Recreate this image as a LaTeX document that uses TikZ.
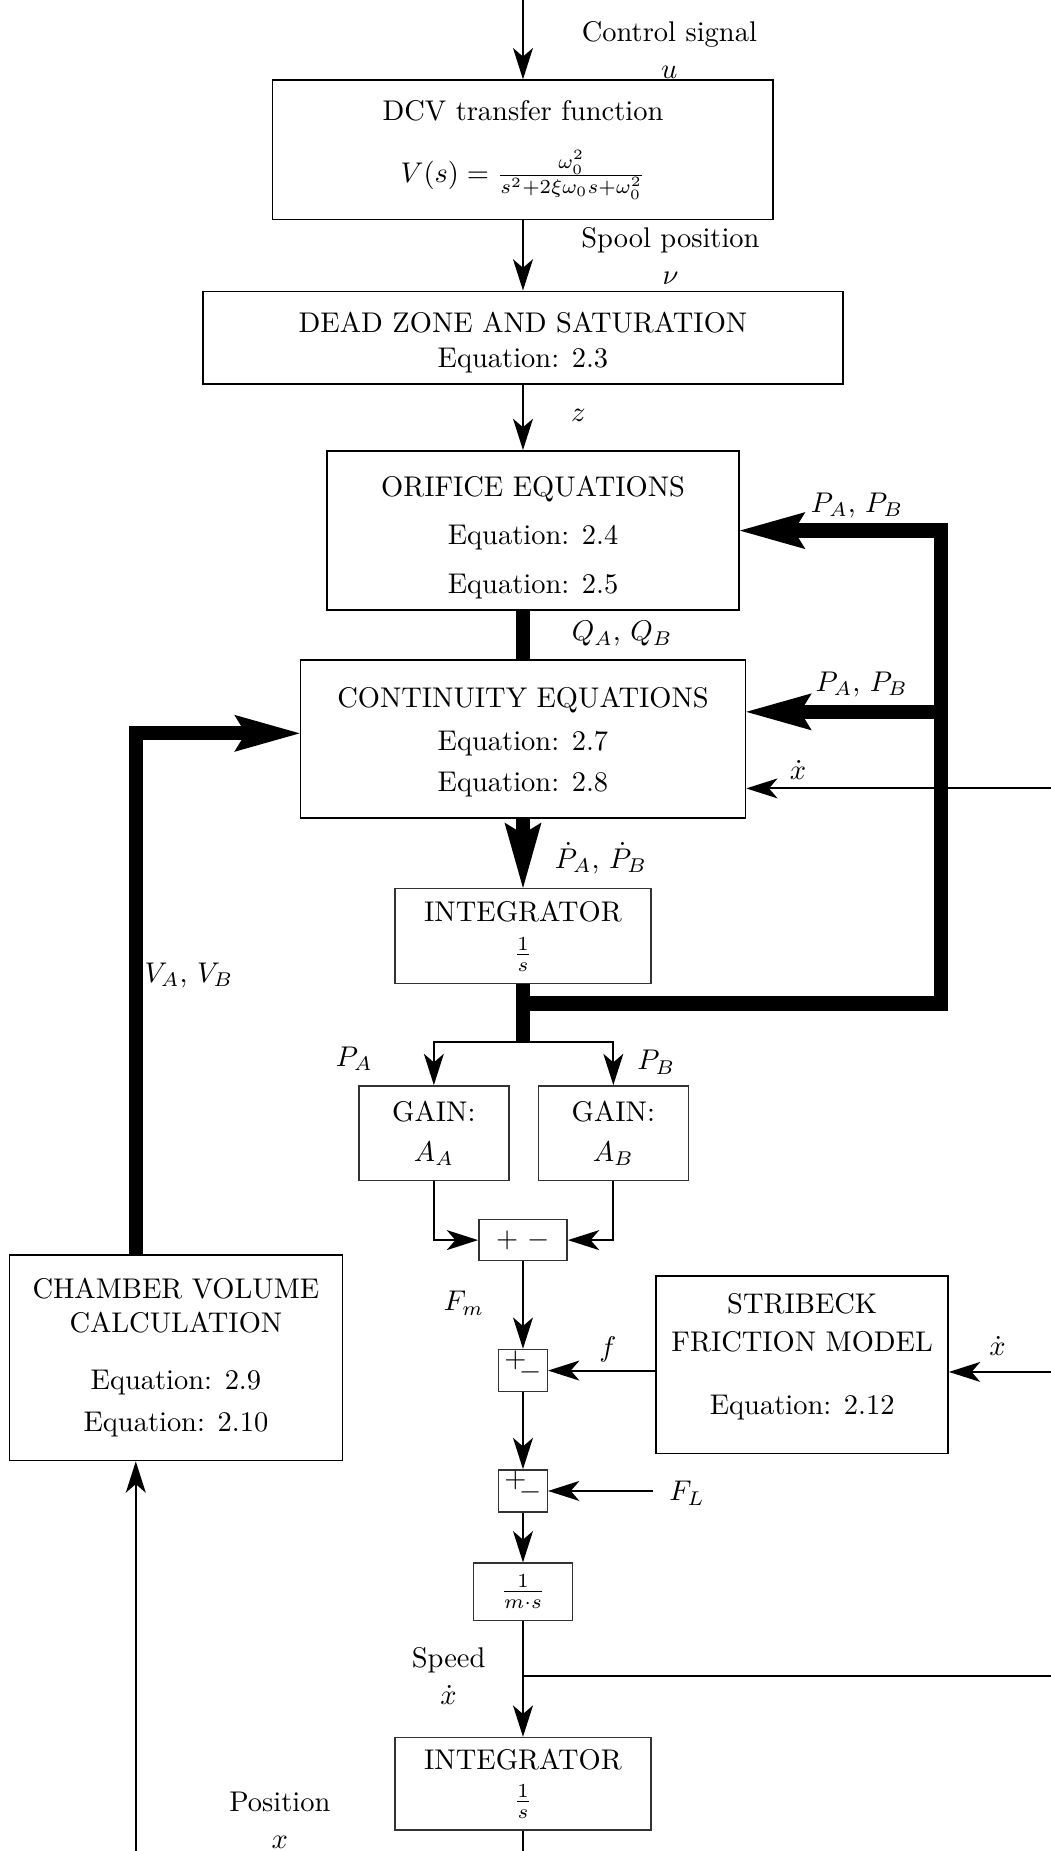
\documentclass[tikz,border=0pt]{standalone}
\usepackage{amsmath}
\usepackage{tikz}
\usetikzlibrary{arrows.meta, positioning}
\newcommand{\plusminus}{\raisebox{4.2pt}{$+$}\kern-2.5pt$-$}
\tikzset{
  block/.style={rectangle, draw=black, align=center, line width=0.6pt, inner sep=2pt},
  smallblock/.style={rectangle, draw=black!80, align=center, line width=0.5pt, inner sep=1pt},
  sumjunc/.style={rectangle, draw=black!80, line width=0.5pt, inner sep=0.5pt,
    minimum width=0.6cm, minimum height=0.52cm, text height=6pt, text depth=0pt},
  lbl/.style={align=center, inner sep=1pt},
  arrow/.style={-{Stealth[length=11pt, width=7pt, inset=3pt]}, line width=0.7pt},
  line/.style={line width=0.7pt},
  thickarrow/.style={-{Stealth[length=23pt, width=13pt, inset=4pt, line width=0pt]}, line width=5pt},
  thickline/.style={line width=5pt}
}

\begin{document}
\begin{tikzpicture}
  \useasboundingbox (-6.455,0) rectangle (6.512,-22.846);
  \coordinate (top) at (0,0.2);
  \coordinate (redge) at (6.7,0);
  \coordinate (bedge) at (0,-23.1);

  % Valve chain
  \node[block, minimum width=6.18cm, minimum height=1.72cm] (dcv) at (0,-1.850)
    {DCV transfer function\\[10pt] $V(s)=\frac{\omega_0^2}{s^2+2\xi\omega_0 s+\omega_0^2}$};
  \node[block, minimum width=7.90cm, minimum height=1.14cm] (dead) at (0,-4.167)
    {\rule{0pt}{10.5pt}DEAD ZONE AND SATURATION\\[0.5pt] Equation: 2.3};
  \node[block, minimum width=5.085cm, minimum height=1.967cm] (orifice) at (0.124,-6.549)
    {\rule{0pt}{12pt}ORIFICE EQUATIONS\\[5pt] Equation: 2.4\\[5pt] Equation: 2.5};
  \node[block, minimum width=5.49cm, minimum height=1.95cm] (cont) at (0,-9.121)
    {\rule{0pt}{9.3pt}CONTINUITY EQUATIONS\\[3pt] Equation: 2.7\\[2.5pt] Equation: 2.8};
  \node[smallblock, minimum width=3.16cm, minimum height=1.17cm] (integA) at (0,-11.554)
    {INTEGRATOR\\[2pt] $\frac{1}{s}$};

  \draw[arrow] (top) -- (dcv.north);
  \draw[arrow] (dcv.south) -- (dead.north);
  \draw[arrow] (dead.south) -- (dead.south |- orifice.north);
  \draw[thickline] (cont.north |- orifice.south) -- (cont.north);
  \draw[thickarrow] (cont.south) -- (integA.north);

  \node[lbl] (lblU) at (1.807,-0.612) {Control signal\\[1pt] $u$};
  \node[lbl] (lblNu) at (1.82,-3.16) {Spool position\\[1pt] $\nu$};
  \node[lbl] (lblZ) at (0.685,-5.129) {$z$};
  \node[lbl] (lblQ) at (1.224,-7.824) {$Q_A$, $Q_B$};
  \node[lbl] (lblPd) at (0.962,-10.59) {$\dot{P}_A$, $\dot{P}_B$};

  % Pressure feedback
  \coordinate (fbcorner) at (5.158,-12.385);
  \coordinate (split) at (0,-12.865);
  \coordinate (contP) at ([yshift=3.35mm]cont.east);
  \coordinate (contX) at ([yshift=-6.1mm]cont.east);
  \draw[thickline] (integA.south) -- (split);
  \draw[thickarrow] (integA.south |- fbcorner) -- (fbcorner) |- (orifice.east);
  \draw[thickarrow] (fbcorner |- contP) -- (contP);
  \draw[arrow] (redge |- contX) -- (contX);
  \node[lbl] (lblP1) at (4.123,-6.236) {$P_A$, $P_B$};
  \node[lbl] (lblP2) at (4.18,-8.45) {$P_A$, $P_B$};
  \node[lbl] (lblXdA) at (3.395,-9.50) {$\dot{x}$};

  % Gains and force balance
  \node[smallblock, minimum width=1.85cm, minimum height=1.17cm] (gainA) at (-1.10,-13.987)
    {GAIN:\\[2pt] $A_A$};
  \node[smallblock, minimum width=1.85cm, minimum height=1.17cm] (gainB) at (1.115,-13.987)
    {GAIN:\\[2pt] $A_B$};
  \node[smallblock, minimum width=1.09cm, minimum height=0.51cm] (pm) at (0,-15.306) {$+$ $-$};
  \node[sumjunc] (sumA) at (0,-16.916) {\plusminus};
  \node[block, minimum width=3.60cm, minimum height=2.19cm] (strib) at (3.446,-16.843)
    {STRIBECK\\[1.5pt] FRICTION MODEL\\[10pt] Equation: 2.12\rule[-7.5pt]{0pt}{7.5pt}};
  \node[sumjunc] (sumB) at (0,-18.402) {\plusminus};
  \node[smallblock, minimum width=1.22cm, minimum height=0.71cm] (ms) at (0,-19.648)
    {$\frac{1}{m\cdot s}$};
  \node[smallblock, minimum width=3.16cm, minimum height=1.14cm] (integB) at (0,-22.015)
    {INTEGRATOR\\[2pt] $\frac{1}{s}$};
  \coordinate (fl) at (1.603,-18.402);
  \coordinate (speed) at (0,-20.689);
  \coordinate (stribX) at ([yshift=-0.9mm]strib.east);

  \draw[arrow] (split) -| (gainA.north);
  \draw[arrow] (split) -| (gainB.north);
  \draw[arrow] (gainA.south) |- (pm.west);
  \draw[arrow] (gainB.south) |- (pm.east);
  \draw[arrow] (pm.south) -- (sumA.north);
  \draw[arrow] (strib.west |- sumA.east) -- (sumA.east);
  \draw[arrow] (redge |- stribX) -- (stribX);
  \draw[arrow] (sumA.south) -- (sumB.north);
  \draw[arrow] (fl) -- (sumB.east);
  \draw[arrow] (sumB.south) -- (ms.north);
  \draw[arrow] (ms.south) -- (integB.north);
  \draw[line] (speed) -- (speed -| redge);
  \draw[line] (integB.south) -- (bedge);

  \node[lbl] (lblPA) at (-2.083,-13.07) {$P_A$};
  \node[lbl] (lblPB) at (1.646,-13.11) {$P_B$};
  \node[lbl] (lblFm) at (-0.729,-16.085) {$F_m$};
  \node[lbl] (lblf) at (1.049,-16.653) {$f$};
  \node[lbl] (lblXdB) at (5.857,-16.61) {$\dot{x}$};
  \node[lbl] (lblFL) at (2.025,-18.43) {$F_L$};
  \node[lbl] (lblSpeed) at (-0.918,-20.689) {Speed\\[1pt] $\dot{x}$};
  \node[lbl] (lblPos) at (-3.001,-22.467) {Position\\[1pt] $x$};

  % Chamber volumes
  \node[block, minimum width=4.11cm, minimum height=2.54cm] (chamber) at (-4.284,-16.756)
    {CHAMBER VOLUME\\ CALCULATION\\[8pt] Equation: 2.9\\[3pt] Equation: 2.10};
  \coordinate (vline) at (-4.779,-23.1);
  \draw[arrow] (vline) -- (vline |- chamber.south);
  \draw[thickarrow] (vline |- chamber.north) |- ([yshift=0.7mm]cont.west);
  \node[lbl] (lblV) at (-4.123,-12.035) {$V_A$, $V_B$};
\end{tikzpicture}
\end{document}
